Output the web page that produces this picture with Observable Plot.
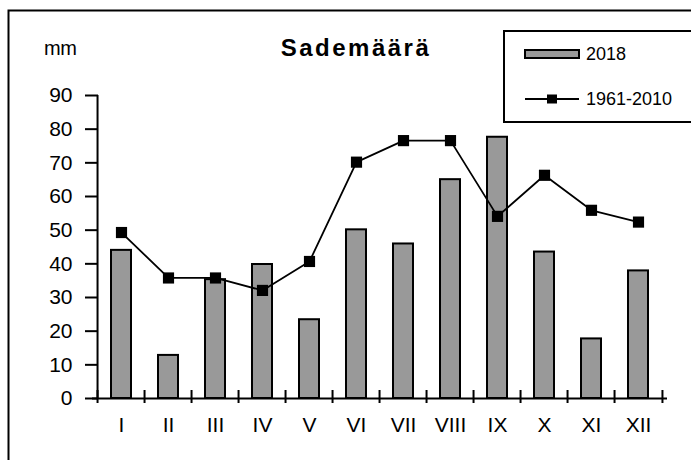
<!DOCTYPE html>
<html>
<head>
<meta charset="utf-8">
<script src="https://cdn.jsdelivr.net/npm/d3@7"></script>
<script src="https://cdn.jsdelivr.net/npm/@observablehq/plot@0.6"></script>
<style>
  html, body { margin: 0; padding: 0; background: #fff; overflow: hidden; }
  #wrap { position: relative; width: 691px; height: 460px; overflow: hidden; font-family: "Liberation Sans", Arial, sans-serif; }
  #wrap svg { position: absolute; left: 0; top: 0; }
  #title { position: absolute; left: 276px; top: 34px; width: 160px; text-align: center; font-weight: bold; font-size: 24px; letter-spacing: 2.5px; color: #000; }
  #unit { position: absolute; left: 44px; top: 37px; font-size: 20px; color: #000; letter-spacing: -0.5px; }
</style>
</head>
<body>
<div id="wrap">
  <div id="unit">mm</div>
  <div id="title">Sademäärä</div>
</div>
<script>
const months = ["I","II","III","IV","V","VI","VII","VIII","IX","X","XI","XII"];
const rain2018 = [44.0, 12.8, 35.3, 39.8, 23.4, 50.1, 45.9, 65.0, 77.6, 43.5, 17.7, 37.9];
const normal = [49.3, 35.8, 35.8, 32.1, 40.7, 70.2, 76.6, 76.6, 54.1, 66.3, 55.9, 52.4];
const yTicks = [0,10,20,30,40,50,60,70,80,90];
const seriesNames = ["2018", "1961-2010"];

const data = months.map((m, i) => ({month: m, rain: rain2018[i], normal: normal[i]}));

const W = 691, H = 460, mL = 92, mR = 24, mT = 95, mB = 62;
const step = (W - mL - mR) / months.length;
const font = '"Liberation Sans", Arial, sans-serif';

const chart = Plot.plot({
  width: W, height: H,
  marginLeft: mL, marginRight: mR, marginTop: mT, marginBottom: mB,
  style: {fontFamily: font, fontSize: "21px", color: "#000", background: "transparent"},
  x: {domain: months, paddingInner: 0.58, paddingOuter: 0.29, label: null, axis: null},
  y: {domain: [0, 90], label: null, axis: null},
  marks: [
    Plot.barY(data, {x: "month", y: "rain", fill: "#999999", stroke: "#000", strokeWidth: 2}),
    Plot.ruleX([months[0]], {x: d => d, y1: 0, y2: 90, dx: -step / 2, stroke: "#000", strokeWidth: 2}),
    Plot.ruleY([0], {stroke: "#000", strokeWidth: 2}),
    Plot.axisY(yTicks, {tickSize: 13, dx: 6, tickFormat: () => "", strokeWidth: 2}),
    Plot.axisY(yTicks, {tickSize: 0, tickPadding: 20, fontSize: 21, tickFormat: d => String(d)}),
    Plot.axisX(months, {tickSize: 13, dy: -8, dx: -step / 2, tickFormat: () => "", strokeWidth: 2}),
    Plot.axisX([months[months.length - 1]], {tickSize: 13, dy: -8, dx: step / 2, tickFormat: () => "", strokeWidth: 2}),
    Plot.axisX(months, {tickSize: 0, tickPadding: 19, fontSize: 21}),
    Plot.line(data, {x: "month", y: "normal", stroke: "#000", strokeWidth: 1.8}),
    Plot.dot(data, {x: "month", y: "normal", symbol: "square", r: 6.3, fill: "#000", stroke: "none"})
  ]
});
const wrap = document.getElementById("wrap");
wrap.insertBefore(chart, wrap.firstChild);

// Outer frame (left and top edges visible) and legend box
const ov = d3.select("#wrap").append("svg").attr("width", W).attr("height", H)
  .style("font-family", font).style("font-size", "18px");
ov.append("path").attr("d", `M8.5,${H + 5}V10.5H${W}`).attr("fill", "none").attr("stroke", "#000").attr("stroke-width", 2);
const lg = ov.append("g").attr("transform", "translate(504,31)");
lg.append("rect").attr("x", 0).attr("y", 0).attr("width", W - 504).attr("height", 91).attr("fill", "#fff");
lg.append("path").attr("d", `M${W - 504},0H0V91H${W - 504}`).attr("fill", "none").attr("stroke", "#000").attr("stroke-width", 2);
lg.append("rect").attr("x", 21).attr("y", 19).attr("width", 54).attr("height", 8)
  .attr("fill", "#999999").attr("stroke", "#000").attr("stroke-width", 2);
lg.append("text").attr("x", 82).attr("y", 23).attr("dy", "0.35em").text(seriesNames[0]);
lg.append("line").attr("x1", 21).attr("x2", 75).attr("y1", 68).attr("y2", 68)
  .attr("stroke", "#000").attr("stroke-width", 1.8);
lg.append("rect").attr("x", 43).attr("y", 63.5).attr("width", 10).attr("height", 9).attr("fill", "#000");
lg.append("text").attr("x", 82).attr("y", 68).attr("dy", "0.35em").text(seriesNames[1]);
</script>
</body>
</html>
